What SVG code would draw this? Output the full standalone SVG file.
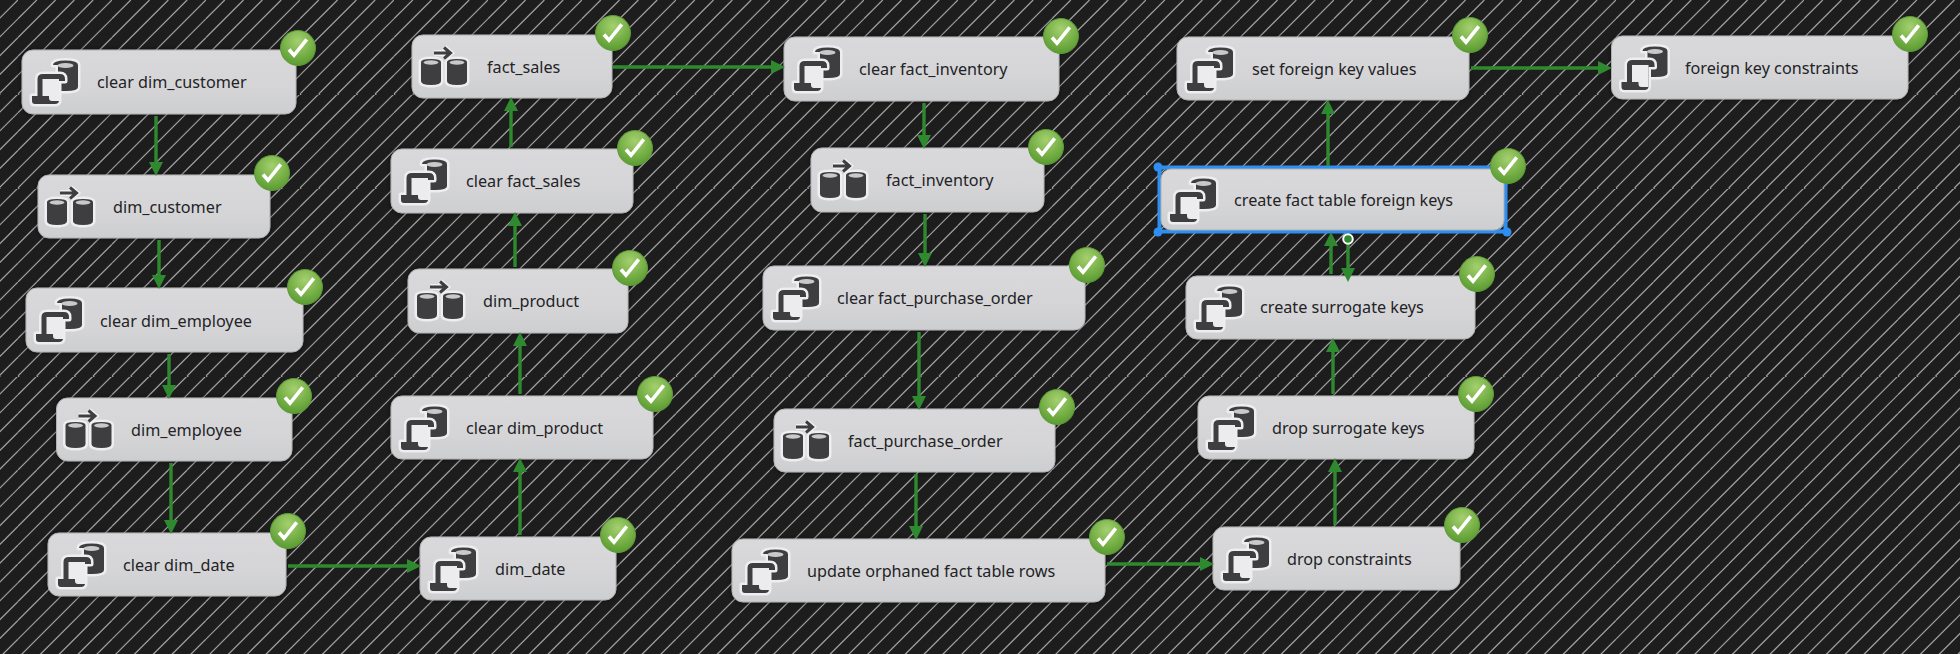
<svg xmlns="http://www.w3.org/2000/svg" width="1960" height="654" viewBox="0 0 1960 654">
<style>
.n{fill:url(#nodeFill);stroke:#b0b0b2;stroke-width:1;filter:url(#sh)}
.t{font-family:"Noto Sans","DejaVu Sans",sans-serif;font-size:16.2px;fill:#232325}
.c{stroke:#2f8a2f;stroke-width:3.4;fill:none;marker-end:url(#arrow)}
.d{fill:#3e3e40}
.h{fill:#eeeef0;stroke:#eeeef0;stroke-width:5;stroke-linejoin:round}
.l{fill:#ececee}
.g{fill:#c9c9cb}
</style>
<defs>
<pattern id="hatch" patternUnits="userSpaceOnUse" x="17.9" y="0" width="94" height="94">
<rect width="94" height="94" fill="#1d1d1e"/>
<path d="M18.8 0L0 18.8M37.6 0L0 37.6M56.4 0L0 56.4M75.2 0L0 75.2M94 0L0 94M94 18.8L18.8 94M94 37.6L37.6 94M94 56.4L56.4 94M94 75.2L75.2 94M-2 96L2 92M92 2L96 -2" stroke="#aeaeae" stroke-width="1.1" fill="none"/>
</pattern>
<linearGradient id="nodeFill" x1="0" y1="0" x2="0" y2="1">
<stop offset="0" stop-color="#d9d9dc"/><stop offset=".6" stop-color="#d5d5d8"/><stop offset="1" stop-color="#cdced0"/>
</linearGradient>
<radialGradient id="okFill" cx=".5" cy=".3" r=".75">
<stop offset="0" stop-color="#a5d06f"/><stop offset=".6" stop-color="#74ae45"/><stop offset="1" stop-color="#55962f"/>
</radialGradient>
<filter id="sh" x="-10%" y="-30%" width="120%" height="160%"><feDropShadow dx="0" dy="0" stdDeviation="2.500" flood-color="#000" flood-opacity=".5"/></filter>
<marker id="arrow" markerUnits="userSpaceOnUse" markerWidth="15" markerHeight="15" refX="10" refY="7" orient="auto"><path d="M0 0L14 7L0 14Z" fill="#2f8a2f"/></marker>
<symbol id="sql" width="64" height="64" overflow="visible">
<path class="h" d="M31 15Q31 10.500 43.500 10.500Q56 10.500 56 15V37Q56 41 44 41H36V15Z"/>
<path class="d" d="M31 15Q31 10.500 43.500 10.500Q56 10.500 56 15V37Q56 41 44 41H36V15Z"/>
<ellipse class="g" cx="43.500" cy="15.500" rx="8" ry="2.600"/>
<path class="h" d="M15.500 46V29Q15.500 24 21 24H38Q43 24 43 29V31H37V51Q36.500 54 33 54H13Q10 54 10 51V46Z"/>
<path class="d" d="M15.500 46V29Q15.500 24 21 24H38Q43 24 43 29V31H37V51Q36.500 54 33 54H13Q10 54 10 51V46Z"/>
<path class="l" d="M20.500 29H37V51H30Q27 51 27 48V46H20.500Z"/>
</symbol>
<symbol id="flow" width="64" height="64" overflow="visible">
<g id="cyl"><path class="h" d="M9 27Q9 24 19 24Q29 24 29 27V46Q29 50 19 50Q9 50 9 46Z"/><path class="d" d="M9 27Q9 24 19 24Q29 24 29 27V46Q29 50 19 50Q9 50 9 46Z"/><ellipse class="g" cx="19" cy="27.500" rx="7.500" ry="2.200"/></g>
<use href="#cyl" x="26"/>
<path d="M22 18H38M32 12.500L38.500 18L32 23.500" fill="none" stroke="#f0f0f2" stroke-width="6"/>
<path d="M22 18H38M32 12.500L38.500 18L32 23.500" fill="none" stroke="#3e3e40" stroke-width="3"/>
</symbol>
<symbol id="ok" width="36" height="36" overflow="visible">
<circle r="17.500" fill="url(#okFill)" stroke="#5b9a36" stroke-width="1"/>
<path d="M-9 1.500L-4 7.300L8.700 -8.700" fill="none" stroke="#fff" stroke-width="3.600"/>
</symbol>
</defs>
<rect id="canvas" width="1960" height="654" fill="url(#hatch)"/>

<g id="clear_dim_customer"><rect class="n" x="22" y="50" width="274" height="64" rx="11"/><use href="#sql" x="22" y="50"/><text class="t" x="97" y="88">clear dim_customer</text><use href="#ok" x="298" y="48"/></g>
<g id="dim_customer"><rect class="n" x="38" y="175" width="232" height="63" rx="11"/><use href="#flow" x="38" y="175"/><text class="t" x="113" y="213">dim_customer</text><use href="#ok" x="272" y="173"/></g>
<g id="clear_dim_employee"><rect class="n" x="26" y="288" width="277" height="64" rx="11"/><use href="#sql" x="26" y="288"/><text class="t" x="100" y="327">clear dim_employee</text><use href="#ok" x="305" y="287"/></g>
<g id="dim_employee"><rect class="n" x="56.500" y="398" width="235.500" height="63" rx="11"/><use href="#flow" x="56.500" y="398"/><text class="t" x="131" y="436">dim_employee</text><use href="#ok" x="294" y="396"/></g>
<g id="clear_dim_date"><rect class="n" x="48" y="533" width="238" height="63" rx="11"/><use href="#sql" x="48" y="533"/><text class="t" x="123" y="571">clear dim_date</text><use href="#ok" x="288" y="531"/></g>
<g id="fact_sales"><rect class="n" x="412" y="35" width="200" height="63" rx="11"/><use href="#flow" x="412" y="35"/><text class="t" x="487" y="73">fact_sales</text><use href="#ok" x="613" y="33"/></g>
<g id="clear_fact_sales"><rect class="n" x="391" y="149" width="242" height="64" rx="11"/><use href="#sql" x="391" y="149"/><text class="t" x="466" y="187">clear fact_sales</text><use href="#ok" x="635" y="148"/></g>
<g id="dim_product"><rect class="n" x="408" y="269" width="220" height="64" rx="11"/><use href="#flow" x="408" y="269"/><text class="t" x="483" y="307">dim_product</text><use href="#ok" x="630" y="268"/></g>
<g id="clear_dim_product"><rect class="n" x="391" y="396" width="262" height="63" rx="11"/><use href="#sql" x="391" y="396"/><text class="t" x="466" y="434">clear dim_product</text><use href="#ok" x="655" y="394"/></g>
<g id="dim_date"><rect class="n" x="420" y="537" width="196" height="63" rx="11"/><use href="#sql" x="420" y="537"/><text class="t" x="495" y="575">dim_date</text><use href="#ok" x="618" y="535"/></g>
<g id="clear_fact_inventory"><rect class="n" x="784" y="37" width="275" height="64" rx="11"/><use href="#sql" x="784" y="37"/><text class="t" x="859" y="75">clear fact_inventory</text><use href="#ok" x="1061" y="36"/></g>
<g id="fact_inventory"><rect class="n" x="811" y="148" width="233" height="64" rx="11"/><use href="#flow" x="811" y="148"/><text class="t" x="886" y="186">fact_inventory</text><use href="#ok" x="1046" y="147"/></g>
<g id="clear_fact_purchase_order"><rect class="n" x="763" y="266" width="322" height="64" rx="11"/><use href="#sql" x="763" y="266"/><text class="t" x="837" y="304">clear fact_purchase_order</text><use href="#ok" x="1087" y="265"/></g>
<g id="fact_purchase_order"><rect class="n" x="774" y="409" width="281" height="63" rx="11"/><use href="#flow" x="774" y="409"/><text class="t" x="848" y="447">fact_purchase_order</text><use href="#ok" x="1057" y="407"/></g>
<g id="update_orphaned"><rect class="n" x="732" y="539" width="373" height="63" rx="11"/><use href="#sql" x="732" y="539"/><text class="t" x="807" y="577">update orphaned fact table rows</text><use href="#ok" x="1107" y="537"/></g>
<g id="drop_constraints"><rect class="n" x="1213" y="527" width="247" height="63" rx="11"/><use href="#sql" x="1213" y="527"/><text class="t" x="1287" y="565">drop constraints</text><use href="#ok" x="1462" y="525"/></g>
<g id="drop_surrogate_keys"><rect class="n" x="1198" y="396" width="276" height="63" rx="11"/><use href="#sql" x="1198" y="396"/><text class="t" x="1272" y="434">drop surrogate keys</text><use href="#ok" x="1476" y="394"/></g>
<g id="create_surrogate_keys"><rect class="n" x="1186" y="276" width="289" height="63" rx="11"/><use href="#sql" x="1186" y="276"/><text class="t" x="1260" y="313">create surrogate keys</text><use href="#ok" x="1477" y="274"/></g>
<g id="create_fact_table_foreign_keys"><rect x="1159.500" y="167.500" width="346" height="64" rx="3" fill="none" stroke="#2e8ff0" stroke-width="4"/><rect class="n" x="1161" y="169" width="343" height="61" rx="10" style="filter:none"/><use href="#sql" x="1160" y="168"/><text class="t" x="1234" y="206">create fact table foreign keys</text><circle cx="1158" cy="167" r="4.500" fill="#2e8ff0"/><circle cx="1158" cy="232" r="4.500" fill="#2e8ff0"/><circle cx="1507" cy="232" r="4.500" fill="#2e8ff0"/><use href="#ok" x="1508" y="166"/></g>
<g id="set_foreign_key_values"><rect class="n" x="1177" y="37" width="292" height="63" rx="11"/><use href="#sql" x="1177" y="37"/><text class="t" x="1252" y="75">set foreign key values</text><use href="#ok" x="1470" y="35"/></g>
<g id="foreign_key_constraints"><rect class="n" x="1611.500" y="36" width="296.500" height="63" rx="11"/><use href="#sql" x="1611.500" y="36"/><text class="t" x="1685" y="74">foreign key constraints</text><use href="#ok" x="1910" y="34"/></g>

<g id="connectors">
<path class="c" d="M156 116V172"/>
<path class="c" d="M159 240V285"/>
<path class="c" d="M169 354V395"/>
<path class="c" d="M171 463V530"/>
<path class="c" d="M288 566H417"/>
<path class="c" d="M520 535V462"/>
<path class="c" d="M520 394V336"/>
<path class="c" d="M515 267V216"/>
<path class="c" d="M511 147V101"/>
<path class="c" d="M613 67H781"/>
<path class="c" d="M924 103V145"/>
<path class="c" d="M925 214V263"/>
<path class="c" d="M919 332V406"/>
<path class="c" d="M916 474V536"/>
<path class="c" d="M1107 564H1210"/>
<path class="c" d="M1335 525V462"/>
<path class="c" d="M1333 394V342"/>
<path class="c" d="M1331 274V236"/>
<path class="c" d="M1348 239V278"/>
<circle cx="1348" cy="239" r="4.800" fill="#2f8a2f" stroke="#fff" stroke-width="2"/>
<path class="c" d="M1328 166V104"/>
<path class="c" d="M1471 68H1608"/>
</g>
</svg>
